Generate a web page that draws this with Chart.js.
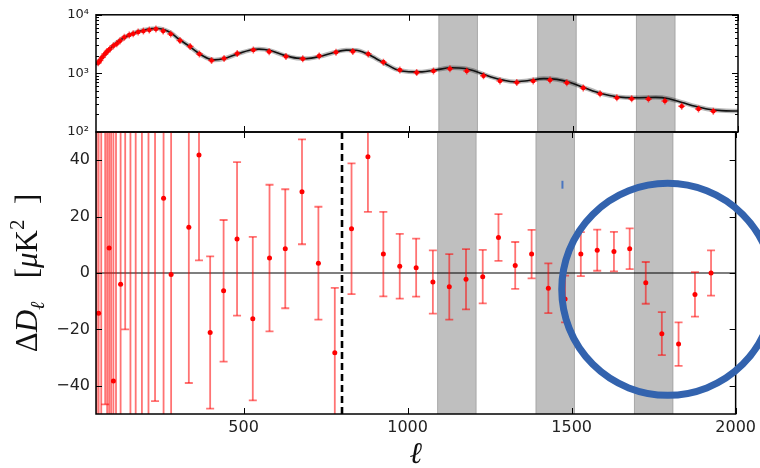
<!DOCTYPE html>
<html>
<head>
<meta charset="utf-8">
<script src="https://cdn.jsdelivr.net/npm/chart.js@4.4.1/dist/chart.umd.min.js"></script>
<style>
  html, body { margin: 0; padding: 0; background: #fff; }
  #wrap { position: relative; width: 760px; height: 468px; }
  #wrap canvas { position: absolute; left: 0; top: 0; }
</style>
</head>
<body>
<div id="wrap">
  <canvas id="specChart" width="760" height="468"></canvas>
  <canvas id="resChart" width="760" height="468"></canvas>
</div>
<script>
// ---- data ----
// top panel: binned band powers D_l [uK^2]
const specL = [57, 62, 69, 77, 84, 92, 103, 113, 123, 136, 151, 163, 178, 194, 212, 232, 254, 277, 305, 336,
  364, 401, 439, 479, 528, 576, 627, 678, 728, 779, 830, 877, 923, 973, 1024, 1075, 1125, 1176, 1227, 1277,
  1328, 1378, 1429, 1480, 1530, 1581, 1632, 1677, 1728, 1778, 1829, 1880, 1925];
const specD = [1517, 1664, 1888, 2144, 2376, 2600, 2965, 3200, 3590, 4120, 4525, 4755, 5080, 5275, 5485, 5700, 5275, 4700, 3630, 2885,
  2145, 1665, 1795, 2178, 2502, 2350, 1940, 1770, 1988, 2290, 2376, 2140, 1556, 1145, 1031, 1101, 1203, 1101, 908, 741,
  701, 741, 769, 693, 566, 449, 385, 370, 365, 338, 275, 248, 227];

// top panel: best-fit model curve
const modelL = [50, 70, 100, 130, 160, 190, 220, 240, 260, 280, 300, 330, 360, 390, 410, 440, 480, 520, 545, 580,
  620, 660, 690, 730, 770, 810, 840, 870, 900, 930, 960, 1000, 1040, 1080, 1130, 1170, 1210, 1250, 1290, 1320,
  1360, 1410, 1450, 1490, 1530, 1570, 1610, 1650, 1700, 1750, 1790, 1830, 1870, 1910, 1950, 2000];
const modelD = [1400, 1900, 2900, 3900, 4750, 5400, 5800, 5850, 5500, 4800, 3900, 3000, 2250, 1800, 1700, 1800, 2150, 2500, 2600, 2450,
  2050, 1820, 1790, 1950, 2250, 2500, 2480, 2200, 1800, 1450, 1180, 1070, 1060, 1140, 1250, 1210, 1050, 870, 760, 720,
  750, 815, 790, 700, 580, 480, 420, 390, 385, 390, 370, 320, 275, 245, 232, 228];

// bottom panel: residuals Delta D_l and 1-sigma errors [uK^2]
const resL = [52, 58, 66, 78, 84, 90, 96, 103, 111, 125, 139, 155, 171, 190, 210, 230, 256, 279, 333, 364,
  398, 439, 480, 528, 579, 627, 678, 728, 778, 829, 879, 926, 976, 1026, 1077, 1127, 1178, 1229, 1277, 1328,
  1378, 1429, 1480, 1528, 1578, 1629, 1677, 1726, 1775, 1826, 1876, 1925];
const resVal = [120, -14.3, 75, 60, -70, 8.9, 65, -38.3, -62, -4, 58, 80, -65, 70, -60, 60, 26.5, -0.5, 16.2, 41.8,
  -21.1, -6.3, 12.1, -16.2, 5.3, 8.6, 28.8, 3.5, -28.3, 15.7, 41.2, 6.7, 2.4, 1.9, -3.2, -4.9, -2.2, -1.3, 12.6, 2.7,
  6.7, -5.4, -9.2, 6.7, 8.1, 7.6, 8.6, -3.5, -21.5, -25.2, -7.6, 0];
const resErr = [200, 180, 150, 106.6, 140, 130, 125, 120, 120, 100, 78, 140, 125, 130, 120, 105.4, 82, 70, 55.2, 37.3,
  27, 25.1, 27.2, 29, 26, 21.1, 18.6, 20, 23, 23.2, 19.5, 15, 11.5, 10.3, 11.2, 11.6, 10.7, 9.5, 8.3, 8.3,
  8.6, 8.8, 8.3, 7.8, 7.3, 7, 7.2, 7.4, 7.6, 7.7, 7.9, 8];

// shaded multipole ranges, split line, highlighted region
const bandStart = [1090, 1390, 1690];
const bandEnd = [1210, 1510, 1810];
const splitL = 800;
const ringL = 1793, ringVal = -5.8;
const strayL = 1472, strayVal = [29.9, 32.7];

// ticks
const xTickVals = [500, 1000, 1500, 2000];
const xTickLabels = ['500', '1000', '1500', '2000'];
const logTickVals = [100, 1000, 10000];
const logTickLabels = ['10²', '10³', '10⁴'];
const resTickVals = [-40, -20, 0, 20, 40];
const resTickLabels = ['\u221240', '\u221220', '0', '20', '40'];

const FONT = "'DejaVu Sans', sans-serif";
const RED = '#ff0000';

// minor log ticks 2..9 x 10^n
const logMinor = [];
[100, 1000].forEach(d => { for (let k = 2; k <= 9; k++) logMinor.push(k * d); });

function pts(xs, ys) { return xs.map((x, i) => ({ x, y: ys[i] })); }

function line(ctx, x1, y1, x2, y2) {
  ctx.beginPath(); ctx.moveTo(x1, y1); ctx.lineTo(x2, y2); ctx.stroke();
}

function drawBands(chart) {
  const { ctx, chartArea: a, scales: { x } } = chart;
  ctx.save();
  ctx.fillStyle = 'rgba(128,128,128,0.5)';
  ctx.strokeStyle = 'rgba(128,128,128,0.35)';
  ctx.lineWidth = 1;
  bandStart.forEach((s, i) => {
    const x1 = x.getPixelForValue(s), x2 = x.getPixelForValue(bandEnd[i]);
    ctx.fillRect(x1, a.top, x2 - x1, a.height);
    line(ctx, x1 + 0.5, a.top, x1 + 0.5, a.bottom);
    line(ctx, x2 - 0.5, a.top, x2 - 0.5, a.bottom);
  });
  ctx.restore();
}

function drawFrame(chart, yMajor, yMinor) {
  const { ctx, chartArea: a, scales: { x, y } } = chart;
  ctx.save();
  ctx.strokeStyle = '#000';
  ctx.lineWidth = 1;
  xTickVals.forEach(v => {
    const px = Math.round(x.getPixelForValue(v)) + 0.5;
    line(ctx, px, a.top, px, a.top + 6);
    line(ctx, px, a.bottom, px, a.bottom - 6);
  });
  yMajor.forEach(v => {
    const py = Math.round(y.getPixelForValue(v)) + 0.5;
    line(ctx, a.left, py, a.left + 6, py);
    line(ctx, a.right, py, a.right - 6, py);
  });
  yMinor.forEach(v => {
    const py = Math.round(y.getPixelForValue(v)) + 0.5;
    line(ctx, a.left, py, a.left + 3, py);
    line(ctx, a.right, py, a.right - 3, py);
  });
  ctx.lineWidth = 1.5;
  ctx.strokeRect(a.left, a.top, a.width, a.height);
  ctx.restore();
}

// ---- top panel ----
new Chart(document.getElementById('specChart'), {
  type: 'scatter',
  data: {
    datasets: [
      { data: pts(specL, specD), pointRadius: 2.3, pointBackgroundColor: RED, pointBorderWidth: 0, order: 0 },
      { data: pts(specL, specD), pointStyle: 'cross', pointRadius: 3.5, pointBorderColor: 'rgba(255,0,0,0.6)',
        pointBorderWidth: 1.5, order: 1 },
      { data: pts(modelL, modelD), showLine: true, pointRadius: 0, borderColor: '#111', borderWidth: 1.6,
        cubicInterpolationMode: 'monotone', order: 2 },
      { data: pts(modelL, modelD), showLine: true, pointRadius: 0, borderColor: 'rgba(0,0,0,0.28)', borderWidth: 4.5,
        cubicInterpolationMode: 'monotone', order: 3 }
    ]
  },
  options: {
    responsive: false,
    animation: false,
    devicePixelRatio: 1,
    layout: { padding: { left: 0, right: 22, top: 13, bottom: 336 } },
    plugins: { legend: { display: false }, tooltip: { enabled: false } },
    scales: {
      x: { type: 'linear', min: 50, max: 2000, display: false },
      y: {
        type: 'logarithmic', min: 100, max: 10000,
        afterFit(s) { s.width = 96; },
        afterBuildTicks(s) { s.ticks = logTickVals.map(v => ({ value: v })); },
        grid: { display: false, drawTicks: false },
        border: { display: false },
        ticks: {
          padding: 7, color: '#222', font: { family: FONT, size: 13 },
          callback: (v) => logTickLabels[logTickVals.indexOf(v)]
        }
      }
    }
  },
  plugins: [{
    id: 'specDecor',
    beforeDatasetsDraw(chart) { drawBands(chart); },
    afterDraw(chart) { drawFrame(chart, logTickVals, logMinor); }
  }]
});

// ---- bottom panel ----
new Chart(document.getElementById('resChart'), {
  type: 'scatter',
  data: {
    datasets: [
      { data: pts(resL, resVal), pointRadius: 2.5, pointBackgroundColor: RED, pointBorderWidth: 0 }
    ]
  },
  options: {
    responsive: false,
    animation: false,
    devicePixelRatio: 1,
    layout: { padding: { left: 0, right: 22, top: 132, bottom: 0 } },
    plugins: { legend: { display: false }, tooltip: { enabled: false } },
    scales: {
      x: {
        type: 'linear', min: 50, max: 2000,
        afterFit(s) { s.height = 54; },
        afterBuildTicks(s) { s.ticks = xTickVals.map(v => ({ value: v })); },
        grid: { display: false, drawTicks: false },
        border: { display: false },
        ticks: {
          padding: 4, color: '#222', maxRotation: 0, font: { family: FONT, size: 16 },
          callback: (v) => xTickLabels[xTickVals.indexOf(v)]
        }
      },
      y: {
        type: 'linear', min: -50, max: 50,
        afterFit(s) { s.width = 96; },
        afterBuildTicks(s) { s.ticks = resTickVals.map(v => ({ value: v })); },
        grid: { display: false, drawTicks: false },
        border: { display: false },
        ticks: {
          padding: 6, color: '#222', font: { family: FONT, size: 16 },
          callback: (v) => resTickLabels[resTickVals.indexOf(v)]
        }
      }
    }
  },
  plugins: [{
    id: 'resDecor',
    beforeDatasetsDraw(chart) {
      drawBands(chart);
      const { ctx, chartArea: a, scales: { x, y } } = chart;
      ctx.save();
      ctx.beginPath();
      ctx.rect(a.left, a.top, a.width, a.height);
      ctx.clip();
      // zero line
      ctx.strokeStyle = '#000';
      ctx.lineWidth = 1.2;
      const y0 = y.getPixelForValue(0);
      line(ctx, a.left, y0, a.right, y0);
      // l = 800 split
      ctx.lineWidth = 2.6;
      ctx.setLineDash([7, 4]);
      const xs = x.getPixelForValue(splitL);
      line(ctx, xs, a.top, xs, a.bottom);
      ctx.setLineDash([]);
      // error bars
      ctx.strokeStyle = 'rgba(255,0,0,0.55)';
      ctx.lineWidth = 1.8;
      resL.forEach((l, i) => {
        const px = x.getPixelForValue(l);
        const lo = y.getPixelForValue(resVal[i] - resErr[i]);
        const hi = y.getPixelForValue(resVal[i] + resErr[i]);
        line(ctx, px, lo, px, hi);
        line(ctx, px - 4, lo, px + 4, lo);
        line(ctx, px - 4, hi, px + 4, hi);
      });
      ctx.restore();
    },
    afterDraw(chart) {
      drawFrame(chart, resTickVals, []);
      const { ctx, chartArea: a, scales: { x, y } } = chart;
      ctx.save();
      // highlight ring
      ctx.strokeStyle = '#3363ae';
      ctx.lineWidth = 7;
      ctx.beginPath();
      ctx.arc(x.getPixelForValue(ringL), y.getPixelForValue(ringVal), 106, 0, Math.PI * 2);
      ctx.stroke();
      ctx.lineWidth = 2;
      ctx.strokeStyle = '#4a76c0';
      const sx = x.getPixelForValue(strayL);
      line(ctx, sx, y.getPixelForValue(strayVal[0]), sx, y.getPixelForValue(strayVal[1]));
      // axis titles
      ctx.fillStyle = '#111';
      ctx.textBaseline = 'alphabetic';
      ctx.textAlign = 'center';
      ctx.font = "italic 30px 'DejaVu Serif', serif";
      ctx.fillText('ℓ', (a.left + a.right) / 2, a.bottom + 49);
      // y title: Delta D_l [ mu K^2 ]
      const parts = [
        { t: 'Δ', f: "31px 'Liberation Serif', serif", dy: 0 },
        { t: 'D', f: "italic 31px 'Liberation Serif', serif", dy: 0 },
        { t: 'ℓ', f: "italic 20px 'DejaVu Serif', serif", dy: 7 },
        { t: '   [', f: "31px 'Liberation Serif', serif", dy: 0 },
        { t: 'μ', f: "italic 31px 'Liberation Serif', serif", dy: 0 },
        { t: 'K', f: "31px 'Liberation Serif', serif", dy: 0 },
        { t: '2', f: "21px 'Liberation Serif', serif", dy: -13 },
        { t: '  ]', f: "31px 'Liberation Serif', serif", dy: 0 }
      ];
      ctx.textAlign = 'left';
      let total = 0;
      parts.forEach(p => { ctx.font = p.f; p.w = ctx.measureText(p.t).width; total += p.w; });
      ctx.translate(37, (a.top + a.bottom) / 2);
      ctx.rotate(-Math.PI / 2);
      let u = -total / 2;
      parts.forEach(p => { ctx.font = p.f; ctx.fillText(p.t, u, p.dy); u += p.w; });
      ctx.restore();
    }
  }]
});
</script>
</body>
</html>
